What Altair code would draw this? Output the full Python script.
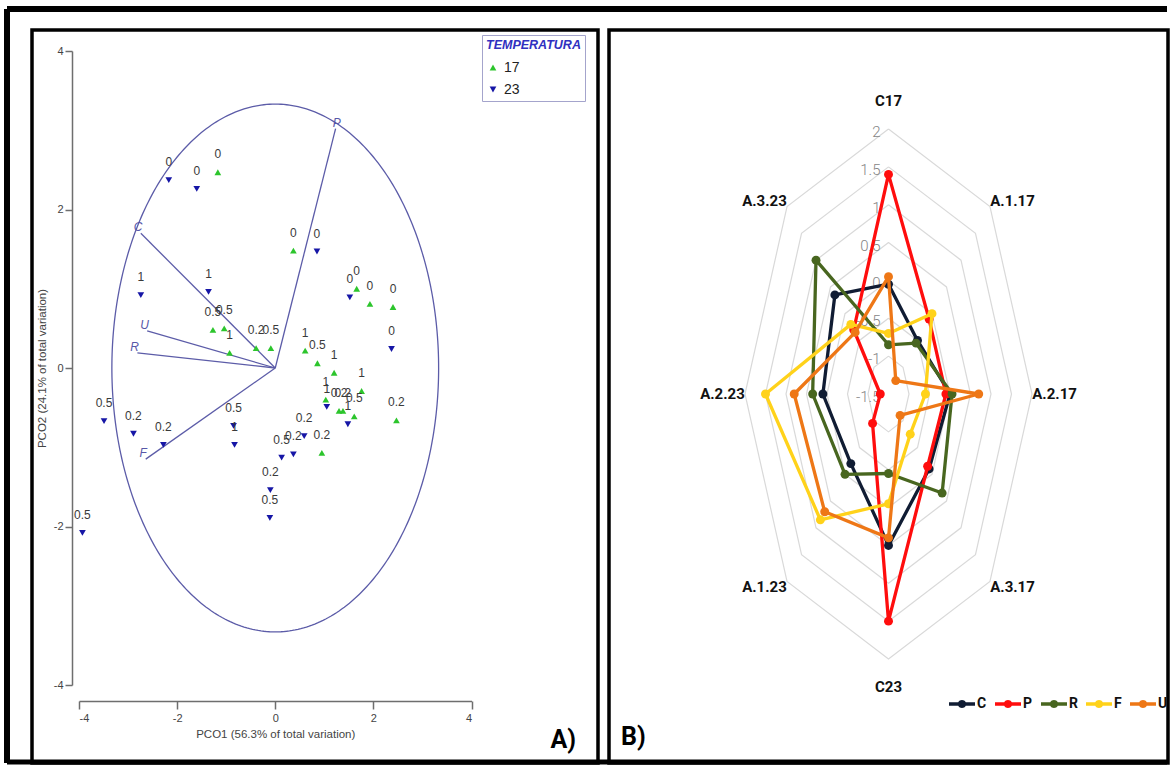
import altair as alt
import numpy as np
import pandas as pd

# ---------------- Panel A: PCO ordination ----------------
t17_x = [-1.17, 0.37, 1.66, 1.93, 2.40, -1.27, -1.04, -0.93, -0.39, -0.09,
         0.61, 0.86, 1.20, 1.76, 1.03, 1.30, 1.38, 1.61, 2.47, 0.95]
t17_y = [2.47, 1.48, 1.00, 0.81, 0.77, 0.48, 0.50, 0.19, 0.25, 0.25,
         0.22, 0.06, -0.06, -0.29, -0.40, -0.54, -0.54, -0.61, -0.66, -1.07]
t17_lab = ['0', '0', '0', '0', '0', '0.5', '0.5', '1', '0.2', '0.5',
           '1', '0.5', '1', '1', '1', '0.2', '0.2', '0.5', '0.2', '0.2']

t23_x = [-2.17, -1.60, 0.85, 1.52, 2.37, -2.74, -1.36, 1.05, 1.48, -3.49,
         -2.89, -2.28, -0.85, -0.83, 0.59, 0.37, 0.13, -0.10, -0.11, -3.93]
t23_y = [2.37, 2.26, 1.47, 0.89, 0.24, 0.92, 0.96, -0.49, -0.71, -0.67,
         -0.83, -0.97, -0.73, -0.97, -0.86, -1.09, -1.13, -1.54, -1.89, -2.08]
t23_lab = ['0', '0', '0', '0', '0', '1', '1', '1', '1', '0.5',
           '0.2', '0.2', '0.5', '1', '0.2', '0.2', '0.5', '0.2', '0.5', '0.5']

temp_levels = ['17', '23']
temp_colors = ['#2cc52c', '#1616a6']

vector_names = ['P', 'C', 'U', 'R', 'F']
vector_x = [1.23, -2.74, -2.61, -2.81, -2.64]
vector_y = [3.02, 1.70, 0.47, 0.19, -1.15]
circle_radius = 3.33

axis_ticks = [-4, -2, 0, 2, 4]

# ---------------- Panel B: radar ----------------
radar_axes = ['C17', 'A.1.17', 'A.2.17', 'A.3.17', 'C23', 'A.1.23', 'A.2.23', 'A.3.23']
series_names = ['C', 'P', 'R', 'F', 'U']
series_colors = ['#101c33', '#ff0d0d', '#48661f', '#ffd21a', '#ee7716']
series_C = [-0.05, -0.50, 0.00, -0.10, 0.50, -0.20, 0.10, 0.35]
series_P = [1.40, -0.10, -0.10, -0.15, 1.50, -0.95, -1.30, -0.30]
series_R = [-0.85, -0.55, 0.05, 0.35, -0.45, 0.00, 0.35, 1.00]
series_F = [-0.70, 0.00, -0.60, -0.75, -0.05, 0.85, 1.50, -0.20]
series_U = [0.05, -1.25, 0.70, -1.10, 0.40, 0.70, 0.80, -0.35]
series_values = [series_C, series_P, series_R, series_F, series_U]

radar_levels = [2, 1.5, 1, 0.5, 0, -0.5, -1, -1.5]
radar_level_labels = ['2', '1.5', '1', '0.5', '0', '-0.5', '-1', '-1.5']
radar_min = -1.5

FONT = "Liberation Sans"
FONT_B = "Roboto"

# ================= Panel A =================
pts = pd.DataFrame({
    'x': t17_x + t23_x,
    'y': t17_y + t23_y,
    'lab': t17_lab + t23_lab,
    'temp': ['17'] * len(t17_x) + ['23'] * len(t23_x),
})
ang = np.linspace(0, 2 * np.pi, 361)
circ = pd.DataFrame({'x': circle_radius * np.cos(ang), 'y': circle_radius * np.sin(ang),
                     'i': np.arange(len(ang))})
vec = pd.DataFrame({'name': vector_names, 'x0': 0.0, 'y0': 0.0,
                    'x': vector_x, 'y': vector_y})
vec['lx'] = vec['x'] * 1.02

xs = alt.Scale(domain=[-4, 4], range=[47, 439.5], nice=False, zero=False)
ys = alt.Scale(domain=[-4, 4], range=[655, 21], nice=False, zero=False)
xaxis = alt.Axis(values=axis_ticks, offset=-62, grid=False, domainColor='#6e6e6e',
                 domainWidth=1.5, tickColor='#6e6e6e', tickWidth=1.5, tickSize=8,
                 labelFont=FONT, labelFontSize=11, labelColor='#444444', labelPadding=3,
                 labelExpr="'' + datum.value", title='PCO1 (56.3% of total variation)',
                 titleFont=FONT, titleFontSize=11.5, titleFontWeight='normal',
                 titleColor='#444444', titlePadding=5)
yaxis = alt.Axis(values=axis_ticks, offset=-40, grid=False, domainColor='#6e6e6e',
                 domainWidth=1.5, tickColor='#6e6e6e', tickWidth=1.5, tickSize=7,
                 labelFont=FONT, labelFontSize=11, labelColor='#444444', labelPadding=2,
                 labelExpr="'' + datum.value", title='PCO2 (24.1% of total variation)',
                 titleFont=FONT, titleFontSize=11.5, titleFontWeight='normal',
                 titleColor='#444444', titlePadding=6)


def X(f):
    return alt.X(f + ':Q', scale=xs, axis=xaxis)


def Y(f):
    return alt.Y(f + ':Q', scale=ys, axis=yaxis)


one = pd.DataFrame({'k': [0]})
frame_top = alt.Chart(one).mark_rule(color='black', strokeWidth=6).encode(
    x=alt.value(-25), x2=alt.value(1135), y=alt.value(-21))
frame_left = alt.Chart(one).mark_rule(color='black', strokeWidth=6).encode(
    x=alt.value(-25), y=alt.value(-21), y2=alt.value(733))
frame_bottom = alt.Chart(one).mark_rule(color='black', strokeWidth=5).encode(
    x=alt.value(-25), x2=alt.value(1135), y=alt.value(732))

circle = alt.Chart(circ).mark_line(color='#5c5ca8', strokeWidth=1.3).encode(
    x=X('x'), y=Y('y'), order='i:Q')
vectors = alt.Chart(vec).mark_rule(color='#5c5ca8', strokeWidth=1.3).encode(
    x=X('x0'), y=Y('y0'), x2='x:Q', y2='y:Q')
vec_labels = alt.Chart(vec).mark_text(font=FONT, fontStyle='italic', fontSize=12,
                                      color='#5757a8', baseline='bottom', dy=1).encode(
    x=X('lx'), y=Y('y'), text='name:N')

leg_a = alt.Legend(title='TEMPERATURA', orient='none', legendX=450, legendY=5,
                   strokeColor='#a4a4cc', fillColor='white', padding=4,
                   titleFont=FONT, titleFontStyle='italic', titleFontWeight='bold',
                   titleColor='#3030c0', titleFontSize=12.5, titlePadding=9,
                   labelFont=FONT, labelFontSize=14, labelColor='#222222',
                   symbolSize=45, symbolStrokeWidth=0, rowPadding=8, labelOffset=4)
points = alt.Chart(pts).mark_point(filled=True, size=45, opacity=1).encode(
    x=X('x'), y=Y('y'),
    color=alt.Color('temp:N', scale=alt.Scale(domain=temp_levels, range=temp_colors), legend=leg_a),
    shape=alt.Shape('temp:N', scale=alt.Scale(domain=temp_levels,
                                              range=['triangle-up', 'triangle-down']), legend=leg_a),
)
pt_labels = alt.Chart(pts).mark_text(font=FONT, fontSize=12, color='#3a3a3a', dy=-18).encode(
    x=X('x'), y=Y('y'), text='lab:N')

left = alt.layer(frame_top, frame_left, frame_bottom, circle, vectors, vec_labels,
                 points, pt_labels).properties(
    width=566, height=733,
    title=alt.TitleParams('A)', orient='bottom', anchor='end', frame='group', offset=-38,
                          dx=-22, fontSize=25, font=FONT_B, fontWeight='bold', color='black'))

# ================= Panel B =================
n = len(radar_axes)
theta = np.arange(n) * 2 * np.pi / n

ring_rows = []
for L in radar_levels:
    r = L - radar_min
    if r <= 0:
        continue
    for k in range(n + 1):
        t = theta[k % n]
        ring_rows.append({'lvl': str(L), 'i': k, 'x': r * np.sin(t), 'y': r * np.cos(t)})
rings = pd.DataFrame(ring_rows)

rmax = max(radar_levels) - radar_min
lab_rows = []
for name, t in zip(radar_axes, theta):
    s, c = np.sin(t), np.cos(t)
    sx = 0 if abs(s) < 1e-9 else np.sign(s)
    sy = 0 if abs(c) < 1e-9 else np.sign(c)
    lx = rmax * s + 0.55 * sx
    ly = rmax * c + (0.37 if sx == 0 else 0.08) * sy
    lab_rows.append({'name': name, 'x': lx, 'y': ly})
cat_labels_df = pd.DataFrame(lab_rows)

lvl_df = pd.DataFrame({'x': 0.0, 'y': [L - radar_min for L in radar_levels],
                       'txt': radar_level_labels})

rxs = alt.Scale(domain=[-3.5, 3.5], range=[136, 423], nice=False, zero=False)
rys = alt.Scale(domain=[-3.5, 3.5], range=[629, 99], nice=False, zero=False)


def RX(f):
    return alt.X(f + ':Q', scale=rxs, axis=None)


def RY(f):
    return alt.Y(f + ':Q', scale=rys, axis=None)


grid = alt.Chart(rings).mark_line(color='#d9d9d9', strokeWidth=1.2).encode(
    x=RX('x'), y=RY('y'), detail='lvl:N', order='i:Q')
lvl_text = alt.Chart(lvl_df).mark_text(font=FONT_B, fontSize=15, fontWeight=300,
                                       color='#858585', align='right', dx=-8, dy=3).encode(
    x=RX('x'), y=RY('y'), text='txt:N')
cat_text = alt.Chart(cat_labels_df).mark_text(font=FONT_B, fontSize=15, fontWeight='bold',
                                              color='#111111').encode(
    x=RX('x'), y=RY('y'), text='name:N')

bar_dot = ("M-1,-0.14 L-0.29,-0.14 A0.33,0.33 0 0 1 0.29,-0.14 L1,-0.14 L1,0.14 "
           "L0.29,0.14 A0.33,0.33 0 0 1 -0.29,0.14 L-1,0.14 Z")
leg_b = alt.Legend(title=None, orient='none', legendX=340, legendY=661, direction='horizontal',
                   symbolType=bar_dot, symbolSize=676, symbolStrokeWidth=0, symbolOpacity=1,
                   labelFont=FONT_B, labelFontSize=14, labelFontWeight='bold',
                   labelColor='#111111', labelOffset=2, columnPadding=8, padding=0)
cscale = alt.Scale(domain=series_names, range=series_colors)

radar_layers = [grid, lvl_text, cat_text]
for name, vals, col in zip(series_names, series_values, series_colors):
    rows = []
    for k in range(n + 1):
        t = theta[k % n]
        r = vals[k % n] - radar_min
        rows.append({'series': name, 'axis': radar_axes[k % n], 'value': vals[k % n],
                     'i': k, 'x': r * np.sin(t), 'y': r * np.cos(t)})
    sd = pd.DataFrame(rows)
    radar_layers.append(alt.Chart(sd).mark_line(color=col, strokeWidth=3.3,
                                                strokeJoin='round').encode(
        x=RX('x'), y=RY('y'), order='i:Q'))
    radar_layers.append(alt.Chart(sd[sd['i'] < n]).mark_point(filled=True, size=80,
                                                               opacity=1).encode(
        x=RX('x'), y=RY('y'),
        color=alt.Color('series:N', scale=cscale, legend=leg_b)))

right = alt.layer(*radar_layers).properties(
    width=559, height=733,
    title=alt.TitleParams('B)', orient='bottom', anchor='start', frame='group', offset=-38,
                          dx=12, fontSize=25, font=FONT_B, fontWeight='bold', color='black'))

chart = alt.hconcat(left, right, spacing=11, bounds='flush').resolve_scale(
    x='independent', y='independent', color='independent', shape='independent'
).resolve_legend(color='independent', shape='independent').properties(
    padding={'left': 2, 'top': 4, 'right': 0, 'bottom': 0},
    background='white'
).configure_view(stroke='black', strokeWidth=3.5)

chart.save('out.html', embed_options={'renderer': 'svg', 'actions': False})
